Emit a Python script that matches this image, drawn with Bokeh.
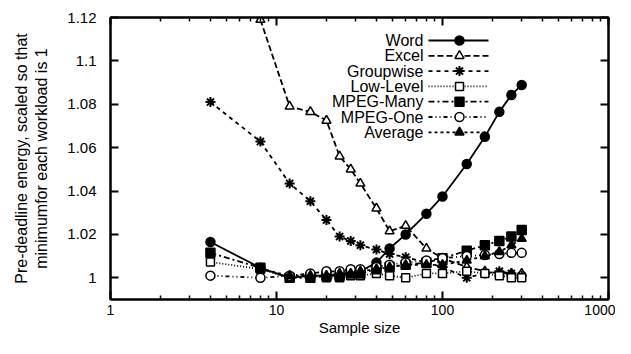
import numpy as np
from bokeh.plotting import figure
from bokeh.models import (Range1d, LogAxis, LinearAxis, FixedTicker,
                          CustomJSTickFormatter, Label)
from bokeh.embed import file_html
from bokeh.resources import INLINE

# ---------------- data ----------------
sizes = [4, 8, 12, 16, 20, 24, 28, 32, 40, 48, 60, 80, 100, 140, 180, 220, 260, 300]
sizes_no4 = sizes[1:]

word = [1.0165, 1.0046, 1.000, 1.001, 1.001, 1.001, 1.002, 1.003, 1.007, 1.0135,
        1.020, 1.0295, 1.0375, 1.0525, 1.065, 1.0765, 1.0843, 1.0889]
excel = [1.119, 1.079, 1.0765, 1.0725, 1.056, 1.050, 1.0435, 1.032, 1.0215,
         1.024, 1.0135, 1.009, 1.005, 1.003, 1.002, 1.002, 1.002]
groupwise = [1.081, 1.0628, 1.0435, 1.0353, 1.0266, 1.019, 1.017, 1.015, 1.013,
             1.011, 1.0095, 1.007, 1.005, 1.000, 1.002, 1.003, 1.002, 1.001]
lowlevel = [1.0073, 1.004, 1.000, 1.001, 1.000, 1.000, 1.001, 1.001, 1.002, 1.001,
            1.000, 1.002, 1.002, 1.003, 1.002, 1.001, 1.000, 1.000]
mpeg_many = [1.0115, 1.0046, 1.000, 1.000, 1.001, 1.001, 1.002, 1.002, 1.004, 1.005,
             1.006, 1.007, 1.009, 1.0125, 1.015, 1.017, 1.019, 1.022]
mpeg_one = [1.001, 1.000, 1.001, 1.002, 1.003, 1.003, 1.004, 1.004, 1.005, 1.006,
            1.007, 1.008, 1.009, 1.010, 1.0105, 1.011, 1.0115, 1.0115]
average = [1.004, 1.001, 1.001, 1.001, 1.002, 1.002, 1.003, 1.004, 1.005,
           1.006, 1.006, 1.006, 1.008, 1.010, 1.012, 1.015, 1.018]

y_ticks = [1.0, 1.02, 1.04, 1.06, 1.08, 1.1, 1.12]
x_ticks = [1, 10, 100, 1000]
x_minor = [2, 3, 4, 5, 6, 7, 8, 9, 20, 30, 40, 50, 60, 70, 80, 90,
           200, 300, 400, 500, 600, 700, 800, 900]

FONT = "Liberation Sans"

# ---------------- figure ----------------
W, H = 615, 338
FL, FR, FT, FB = 110, 608, 17, 299   # intended frame edges in canvas pixels
p = figure(width=W, height=H, x_axis_type="log",
           x_range=Range1d(1, 1000), y_range=Range1d(0.99, 1.12),
           output_backend="svg", toolbar_location=None,
           min_border_left=FL, min_border_right=W - FR,
           min_border_top=FT, min_border_bottom=H - FB)
p.grid.visible = False
p.outline_line_color = "black"
p.outline_line_width = 2
p.background_fill_color = "white"
p.border_fill_color = "white"

xfmt = CustomJSTickFormatter(code="return tick.toFixed(0);")
yfmt = CustomJSTickFormatter(code="var s = tick.toFixed(2); s = s.replace(/0+$/, ''); return s.replace(/\\.$/, '');")
nofmt = CustomJSTickFormatter(code="return '';")

def style_axis(ax):
    ax.axis_line_width = 2
    ax.axis_line_color = "black"
    ax.major_tick_in = 8
    ax.major_tick_out = 0
    ax.minor_tick_in = 4
    ax.minor_tick_out = 0
    ax.major_tick_line_width = 2
    ax.minor_tick_line_width = 1.5
    ax.major_label_text_font = FONT
    ax.major_label_text_font_size = "15px"
    ax.major_label_text_color = "black"

xa = p.xaxis[0]
xa.ticker = FixedTicker(ticks=x_ticks, minor_ticks=x_minor)
xa.formatter = xfmt
style_axis(xa)
xa.major_label_text_font_size = "14px"
xa.major_label_standoff = 5
xa.axis_label = "Sample size"
xa.axis_label_text_font = FONT
xa.axis_label_text_font_size = "15px"
xa.axis_label_text_font_style = "normal"
xa.axis_label_text_color = "black"
xa.axis_label_standoff = 1

ya = p.yaxis[0]
ya.ticker = FixedTicker(ticks=y_ticks)
ya.formatter = yfmt
style_axis(ya)
ya.minor_tick_in = 0
ya.major_label_standoff = 14
ya.axis_label = "Pre-deadline energy, scaled so that\nminimumfor each workload is 1"
ya.axis_label_text_font = FONT
ya.axis_label_text_font_size = "16px"
ya.axis_label_text_font_style = "normal"
ya.axis_label_text_color = "black"
ya.axis_label_text_align = "center"
ya.axis_label_standoff = 14

top = LogAxis(ticker=FixedTicker(ticks=x_ticks, minor_ticks=x_minor), formatter=nofmt)
style_axis(top)
top.major_label_standoff = 0
p.add_layout(top, "above")
right = LinearAxis(ticker=FixedTicker(ticks=y_ticks), formatter=nofmt)
style_axis(right)
right.minor_tick_in = 0
right.major_label_standoff = 0
p.add_layout(right, "right")

# ---------------- series ----------------
series = [
    ("Word", sizes, word, "solid", "circle", "black", 9),
    ("Excel", sizes_no4, excel, "6 3", "triangle", "white", 9),
    ("Groupwise", sizes, groupwise, "4 4", "asterisk", "black", 10),
    ("Low-Level", sizes, lowlevel, "1 2", "square", "white", 8),
    ("MPEG-Many", sizes, mpeg_many, "6 3 2 3", "square", "black", 9),
    ("MPEG-One", sizes, mpeg_one, "4 3 1 3 1 3", "circle", "white", 9),
    ("Average", sizes_no4, average, "3 3", "triangle", "black", 9),
]

for name, xs, ys, dash, marker, fill, size in series:
    p.line(xs, ys, line_color="black", line_width=1.8, line_dash=dash)
    p.scatter(xs, ys, marker=marker, size=size, line_color="black",
              line_width=2 if marker == "asterisk" else 1.5, fill_color=fill)

# ---------------- legend (drawn by hand: label left, sample right) ----------------
def px_to_x(px):
    return 10 ** (3 * (px - FL) / (FR - FL))
def py_to_y(py):
    return 1.12 - (py - FT) * 0.13 / (FB - FT)

row0, row_h = 40, 15.3
for i, (name, xs, ys, dash, marker, fill, size) in enumerate(series):
    yy = py_to_y(row0 + i * row_h)
    p.add_layout(Label(x=px_to_x(423), y=yy, text=name, text_align="right",
                       text_baseline="middle", text_font=FONT,
                       text_font_size="16px", text_color="black"))
    p.line([px_to_x(428), px_to_x(488)], [yy, yy], line_color="black",
           line_width=1.8, line_dash=dash)
    p.scatter([px_to_x(459)], [yy], marker=marker, size=size, line_color="black",
              line_width=2 if marker == "asterisk" else 1.5, fill_color=fill)

open("out.html", "w").write(file_html(p, INLINE))
